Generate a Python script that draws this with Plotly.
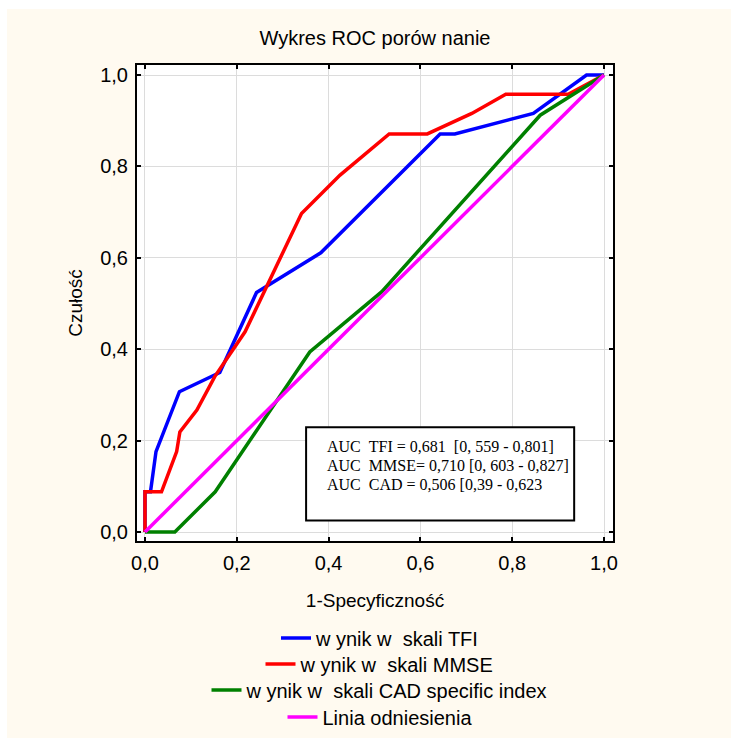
import plotly.graph_objects as go

# ROC curves: 1 - specificity (x) against sensitivity (y)
tfi_fpr = [0, 0, 0.012, 0.024, 0.075, 0.163, 0.243, 0.383, 0.643, 0.675, 0.846, 0.962, 1.0]
tfi_tpr = [0, 0.088, 0.088, 0.176, 0.307, 0.349, 0.524, 0.611, 0.871, 0.871, 0.916, 1.0, 1.0]

mmse_fpr = [0, 0, 0.036, 0.069, 0.076, 0.113, 0.152, 0.218, 0.341, 0.425, 0.532, 0.615, 0.712, 0.786, 0.922, 1.0]
mmse_tpr = [0, 0.088, 0.088, 0.176, 0.219, 0.267, 0.340, 0.438, 0.697, 0.781, 0.871, 0.871, 0.916, 0.958, 0.958, 1.0]

cad_fpr = [0, 0.065, 0.153, 0.359, 0.516, 0.861, 1.0]
cad_tpr = [0, 0, 0.088, 0.394, 0.526, 0.912, 1.0]

ref_fpr = [0, 1]
ref_tpr = [0, 1]

series_names = [
    "w ynik w  skali TFI",
    "w ynik w  skali MMSE",
    "w ynik w  skali CAD specific index",
    "Linia odniesienia",
]
series_colors = ["#0000FF", "#FF0000", "#008000", "#FF00FF"]

auc_lines = [
    "AUC  TFI = 0,681  [0, 559 - 0,801]",
    "AUC  MMSE= 0,710 [0, 603 - 0,827]",
    "AUC  CAD = 0,506 [0,39 - 0,623",
]

tick_vals = [0, 0.2, 0.4, 0.6, 0.8, 1.0]

W, H = 731, 738
ML, MR, MT, MB = 137, 118, 65, 197
CREAM = "#FFFAF0"
FONT = "Liberation Sans, Arial, sans-serif"
SERIF = "Liberation Serif, Times New Roman, serif"

fig = go.Figure()
curves = [(tfi_fpr, tfi_tpr), (mmse_fpr, mmse_tpr), (cad_fpr, cad_tpr), (ref_fpr, ref_tpr)]
legend_ids = ["legend", "legend2", "legend3", "legend4"]
for (xs, ys), name, color, lg in zip(curves, series_names, series_colors, legend_ids):
    fig.add_trace(go.Scatter(
        x=xs, y=ys, mode="lines", name=name,
        line=dict(color=color, width=3.5),
        legend=lg, showlegend=True,
    ))

axis_common = dict(
    tickvals=tick_vals, tickformat=".1f",
    showgrid=True, gridcolor="#DCDCDC", gridwidth=1, zeroline=False,
    showline=True, linecolor="black", linewidth=2, mirror="ticks",
    ticks="inside", ticklen=4, tickwidth=1.5, tickcolor="black",
    tickfont=dict(family=FONT, size=20, color="black"),
    ticklabelstandoff=3,
)

fig.update_xaxes(range=[-0.0174, 1.0196],
                 title=dict(text="1-Specyficzność", standoff=21,
                            font=dict(family=FONT, size=19, color="black")),
                 **axis_common)
fig.update_yaxes(range=[-0.0197, 1.0219],
                 title=dict(text="Czułość", standoff=13,
                            font=dict(family=FONT, size=19, color="black")),
                 **axis_common)

# AUC summary box
fig.add_shape(type="rect", xref="x", yref="y", x0=0.351, x1=0.935, y0=0.025, y1=0.229,
              line=dict(color="black", width=2), fillcolor="white", layer="above")
for i, line in enumerate(auc_lines):
    fig.add_annotation(xref="x", yref="y", x=0.392, y=0.187 - i * 0.0415,
                       xanchor="left", yanchor="middle", showarrow=False, align="left",
                       text=line.replace(" ", "\u00a0"),
                       font=dict(family=SERIF, size=16, color="black"))

# thin white border round the cream page
for (x0, x1, y0, y1) in [(-ML / (W - ML - MR), (7 - ML) / (W - ML - MR), -2, 3),
                         (-1, 3, 1 + (MT - 9) / (H - MT - MB), 1 + MT / (H - MT - MB))]:
    fig.add_shape(type="rect", xref="paper", yref="paper", x0=x0, x1=x1, y0=y0, y1=y1,
                  line=dict(width=0), fillcolor="white", layer="below")

legend_px = [638, 664, 690, 717]
legend_layout = {}
for lg, py in zip(legend_ids, legend_px):
    legend_layout[lg] = dict(
        xref="container", yref="container",
        x=380 / W, y=1 - py / H, xanchor="center", yanchor="middle",
        bgcolor="rgba(0,0,0,0)", borderwidth=0,
        font=dict(family=FONT, size=20, color="black"),
        itemwidth=30, tracegroupgap=0,
    )

fig.update_layout(
    width=W, height=H,
    margin=dict(l=ML, r=MR, t=MT, b=MB, pad=0, autoexpand=False),
    paper_bgcolor=CREAM, plot_bgcolor="white",
    separators=",.",
    title=dict(text="Wykres ROC porów nanie", xref="paper", x=0.5, xanchor="center",
               y=1 - 38 / H, yanchor="middle",
               font=dict(family=FONT, size=20, color="black")),
    **legend_layout,
)

fig.write_html("out.html")
